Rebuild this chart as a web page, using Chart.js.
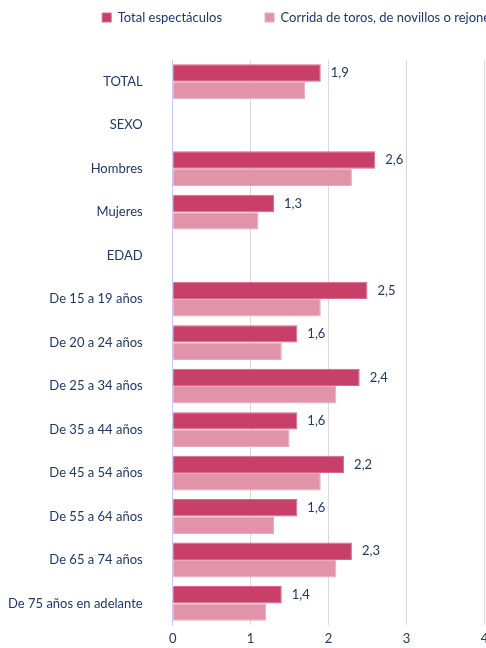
<!DOCTYPE html>
<html lang="es">
<head>
  <meta charset="UTF-8" />
  <title>Asistencia a espectáculos</title>
  <script src="https://cdn.jsdelivr.net/npm/chart.js"></script>
  <style>
    html, body { margin: 0; padding: 0; background: #fff; overflow: hidden; }
    #wrap { width: 650px; height: 663px; }
  </style>
</head>
<body>
  <div id="wrap"><canvas id="chart"></canvas></div>
  <script>
    // datos
    const categorias = ['TOTAL', 'SEXO', 'Hombres', 'Mujeres', 'EDAD',
      'De 15 a 19 años', 'De 20 a 24 años', 'De 25 a 34 años', 'De 35 a 44 años',
      'De 45 a 54 años', 'De 55 a 64 años', 'De 65 a 74 años', 'De 75 años en adelante'];
    const totalEspectaculos = [1.9, null, 2.6, 1.3, null, 2.5, 1.6, 2.4, 1.6, 2.2, 1.6, 2.3, 1.4];
    const corridaToros = [1.7, null, 2.3, 1.1, null, 1.9, 1.4, 2.1, 1.5, 1.9, 1.3, 2.1, 1.2];
    const ticksX = [0, 1, 2, 3, 4];

    const azul = '#1F3864';
    const fuente = 'Lato, "Open Sans", sans-serif';

    // etiquetas de valor solo para la primera serie
    const etiquetas = {
      id: 'etiquetas',
      afterDatasetsDraw(chart) {
        const ctx = chart.ctx;
        const meta = chart.getDatasetMeta(0);
        ctx.save();
        ctx.font = '13px ' + fuente;
        ctx.fillStyle = azul;
        ctx.textAlign = 'left';
        ctx.textBaseline = 'middle';
        meta.data.forEach((bar, i) => {
          const v = totalEspectaculos[i];
          if (v == null) return;
          ctx.fillText(v.toFixed(1).replace('.', ','), bar.x + 10, bar.y);
        });
        ctx.restore();
      }
    };

    // más espacio bajo la leyenda
    const altoLeyenda = {
      id: 'altoLeyenda',
      beforeInit(chart) {
        const fit = chart.legend.fit;
        chart.legend.fit = function () {
          fit.bind(chart.legend)();
          this.height += 26;
        };
      }
    };

    new Chart(document.getElementById('chart'), {
      type: 'bar',
      data: {
        labels: categorias,
        datasets: [
          {
            label: 'Total espectáculos',
            data: totalEspectaculos,
            backgroundColor: '#C8406A',
            borderColor: '#D8688A',
            borderWidth: 1
          },
          {
            label: 'Corrida de toros, de novillos o rejones',
            data: corridaToros,
            backgroundColor: '#E093A9',
            borderColor: '#E8AABB',
            borderWidth: 1
          }
        ]
      },
      options: {
        indexAxis: 'y',
        responsive: true,
        maintainAspectRatio: false,
        animation: false,
        categoryPercentage: 0.8,
        barPercentage: 1,
        layout: { padding: { top: -32, right: 30, bottom: 0, left: -22 } },
        plugins: {
          tooltip: { enabled: false },
          legend: {
            position: 'top',
            labels: {
              boxWidth: 9,
              boxHeight: 9,
              padding: 43,
              color: azul,
              font: { family: fuente, size: 13 }
            }
          }
        },
        scales: {
          x: {
            min: 0,
            max: 5.74,
            afterBuildTicks(axis) { axis.ticks = ticksX.map(v => ({ value: v })); },
            grid: { color: '#D9D9D9', drawTicks: false },
            border: { display: false },
            ticks: { color: azul, padding: 6, font: { family: fuente, size: 13 } }
          },
          y: {
            grid: { display: false, drawTicks: false },
            border: { color: '#C8C8F0' },
            ticks: { color: azul, padding: 30, font: { family: fuente, size: 13 } }
          }
        }
      },
      plugins: [etiquetas, altoLeyenda]
    });
  </script>
</body>
</html>
